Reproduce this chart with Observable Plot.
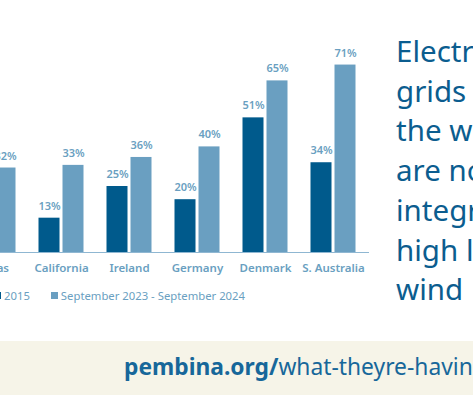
<!DOCTYPE html>
<html>
<head>
<meta charset="utf-8">
<script src="https://cdn.jsdelivr.net/npm/d3@7"></script>
<script src="https://cdn.jsdelivr.net/npm/@observablehq/plot@0.6"></script>
<style>
  html, body { margin: 0; padding: 0; background: #fff; }
  body { width: 473px; height: 395px; overflow: hidden; position: relative; font-family: "Noto Sans", sans-serif; }
  #chart { position: absolute; left: -44.5px; top: 0; }
  #chart g[aria-label="x-axis tick label"] text { font-weight: 600; }
  #legend { position: absolute; left: -6px; top: 288px; display: flex; gap: 21px; font-size: 11.3px; color: #6a9fc1; white-space: nowrap; }
  #legend .item { display: flex; align-items: center; gap: 3px; }
  #legend .sw { width: 7px; height: 7px; display: inline-block; }
  #headline { position: absolute; left: 396px; top: 31px; font-size: 29.5px; line-height: 39.7px; color: #0b5d8f; white-space: nowrap; }
  #footer { position: absolute; left: 0; top: 341px; width: 473px; height: 54px; background: #f6f4e8; }
  #footer .url { position: absolute; left: 124px; top: 11px; font-size: 22.8px; line-height: 30px; color: #17679a; white-space: nowrap; }
  #footer .url b { font-weight: 700; }
</style>
</head>
<body>
<div id="chart"></div>
<div id="legend"></div>
<div id="headline">Electricity<br>grids around<br>the world<br>are now<br>integrating<br>high levels of<br>wind</div>
<div id="footer"><div class="url"><b>pembina.org/</b>what-theyre-having</div></div>
<script>
const countries = ["Texas", "California", "Ireland", "Germany", "Denmark", "S. Australia"];
const share2015 = [10, 13, 25, 20, 51, 34];
const share2024 = [32, 33, 36, 40, 65, 71];
const seriesNames = ["2015", "September 2023 - September 2024"];
const colors = ["#005a8c", "#6a9fc1"];

const rows2015 = countries.map((c, i) => ({country: c, series: seriesNames[0], value: share2015[i]}));
const rows2024 = countries.map((c, i) => ({country: c, series: seriesNames[1], value: share2024[i]}));

const labelColor = "#6a9fc1";
const plot = Plot.plot({
  width: 413,
  height: 290,
  marginTop: 54,
  marginBottom: 38,
  marginLeft: 0,
  marginRight: 0,
  style: {fontFamily: "Noto Sans", color: labelColor, background: "transparent"},
  x: {domain: countries, padding: 0, label: null},
  y: {domain: [0, 75], axis: null},
  marks: [
    Plot.barY(rows2015, {x: "country", y: "value", fill: colors[0], insetLeft: 11.5, insetRight: 35.5}),
    Plot.barY(rows2024, {x: "country", y: "value", fill: colors[1], insetLeft: 35.5, insetRight: 11.5}),
    Plot.text(rows2015, {x: "country", y: "value", text: d => d.value + "%", dx: -12, dy: -12, fill: labelColor, fontSize: 11, fontWeight: 600}),
    Plot.text(rows2024, {x: "country", y: "value", text: d => d.value + "%", dx: 12, dy: -12, fill: labelColor, fontSize: 11, fontWeight: 600}),
    Plot.ruleY([0], {stroke: "#8fb7d2", strokeWidth: 1.2}),
    Plot.axisX({tickSize: 0, tickPadding: 11, fontSize: 11.5, label: null})
  ]
});
document.getElementById("chart").appendChild(plot);

const legend = document.getElementById("legend");
seriesNames.forEach((name, i) => {
  const item = document.createElement("div");
  item.className = "item";
  const sw = document.createElement("span");
  sw.className = "sw";
  sw.style.background = colors[i];
  const t = document.createElement("span");
  t.textContent = name;
  item.appendChild(sw);
  item.appendChild(t);
  legend.appendChild(item);
});
</script>
</body>
</html>
